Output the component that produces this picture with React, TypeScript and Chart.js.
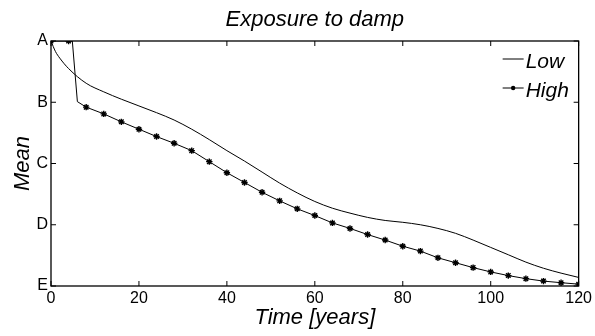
import React, { useEffect, useRef } from "react";
import { Chart, registerables } from "chart.js";

Chart.register(...registerables);

const titleText = "Exposure to damp";
const xAxisTitle = "Time [years]";
const yAxisTitle = "Mean";
const yTickLabels = ["E", "D", "C", "B", "A"]; // values 1..5
const seriesNames = ["Low", "High"];

const lowX = [0, 1, 2, 4, 8, 12, 16, 20, 24, 28, 32, 36, 40, 44, 48, 52, 56, 60, 64, 68, 72, 76, 80, 84, 88, 92, 96, 100, 104, 108, 112, 116, 120];
const lowY = [5.0, 4.83, 4.72, 4.55, 4.31, 4.17, 4.05, 3.94, 3.83, 3.71, 3.56, 3.39, 3.21, 3.04, 2.86, 2.68, 2.52, 2.38, 2.27, 2.19, 2.12, 2.07, 2.04, 2.0, 1.94, 1.86, 1.75, 1.63, 1.51, 1.39, 1.29, 1.21, 1.14];

const highX = [0, 4, 4.85, 6.0, 8, 12, 16, 20, 24, 28, 32, 36, 40, 44, 48, 52, 56, 60, 64, 68, 72, 76, 80, 84, 88, 92, 96, 100, 104, 108, 112, 116, 120];
const highY = [5.0, 5.0, 5.0, 4.01, 3.92, 3.81, 3.68, 3.56, 3.44, 3.33, 3.21, 3.03, 2.85, 2.69, 2.53, 2.39, 2.26, 2.15, 2.03, 1.94, 1.84, 1.75, 1.65, 1.57, 1.46, 1.38, 1.3, 1.23, 1.17, 1.12, 1.08, 1.054, 1.03];

const FONT = "Arial, 'Liberation Sans', Helvetica, sans-serif";

const framePlugin = {
  id: "frameAndText",
  afterDraw(chart: any) {
    const { ctx, chartArea } = chart;
    const { left, right, top, bottom } = chartArea;
    const xs = chart.scales.x;
    const ys = chart.scales.y;
    ctx.save();
    ctx.strokeStyle = "#000";
    ctx.lineWidth = 1.3;
    ctx.strokeRect(left, top, right - left, bottom - top);
    // inward ticks
    ctx.lineWidth = 1;
    const tl = 5;
    xs.ticks.forEach((t: any) => {
      const px = xs.getPixelForValue(t.value);
      ctx.beginPath();
      ctx.moveTo(px, bottom);
      ctx.lineTo(px, bottom - tl);
      ctx.moveTo(px, top);
      ctx.lineTo(px, top + tl);
      ctx.stroke();
    });
    ys.ticks.forEach((t: any) => {
      const py = ys.getPixelForValue(t.value);
      ctx.beginPath();
      ctx.moveTo(left, py);
      ctx.lineTo(left + tl, py);
      ctx.moveTo(right, py);
      ctx.lineTo(right - tl, py);
      ctx.stroke();
    });
    ctx.fillStyle = "#000";
    // title
    ctx.font = `italic 22px ${FONT}`;
    ctx.textAlign = "center";
    ctx.textBaseline = "alphabetic";
    const cx = (left + right) / 2;
    ctx.fillText(titleText, cx, 26);
    ctx.fillText(xAxisTitle, cx, 324);
    // y title
    ctx.save();
    ctx.translate(29, (top + bottom) / 2);
    ctx.rotate(-Math.PI / 2);
    ctx.fillText(yAxisTitle, 0, 0);
    ctx.restore();
    // legend
    ctx.font = `italic 21px ${FONT}`;
    ctx.textAlign = "left";
    const lx0 = right - 76;
    const lx1 = right - 55;
    const tx = right - 53;
    const rows = [59, 88];
    rows.forEach((y, i) => {
      ctx.beginPath();
      ctx.lineWidth = 1;
      ctx.moveTo(lx0, y);
      ctx.lineTo(lx1, y);
      ctx.stroke();
      if (i === 1) {
        ctx.beginPath();
        ctx.arc((lx0 + lx1) / 2, y, 2.2, 0, Math.PI * 2);
        ctx.fill();
      }
      ctx.fillText(seriesNames[i], tx, y + 9);
    });
    ctx.restore();
  },
};

export default function App() {
  const ref = useRef<HTMLCanvasElement>(null);
  useEffect(() => {
    document.body.style.margin = "0";
    const canvas = ref.current!;
    const chart = new Chart(canvas, {
      type: "line",
      data: {
        datasets: [
          {
            label: seriesNames[0],
            data: lowX.map((x, i) => ({ x, y: lowY[i] })),
            borderColor: "#000",
            borderWidth: 1,
            pointRadius: 0,
            cubicInterpolationMode: "monotone",
            fill: false,
          },
          {
            label: seriesNames[1],
            data: highX.map((x, i) => ({ x, y: highY[i] })),
            borderColor: "#000",
            backgroundColor: "#000",
            borderWidth: 1,
            tension: 0,
            pointStyle: "star",
            pointRadius: (c: any) => (c.raw && c.raw.x % 4 === 0 ? 3.2 : 0),
            pointBorderWidth: 1.4,
            pointBorderColor: "#000",
            fill: false,
          },
        ],
      },
      options: {
        responsive: false,
        animation: false,
        layout: { padding: { left: 0, top: 41, right: 16, bottom: 0 } },
        plugins: { legend: { display: false }, title: { display: false }, tooltip: { enabled: false } },
        scales: {
          x: {
            type: "linear",
            min: 0,
            max: 120,
            ticks: { stepSize: 20, color: "#000", font: { family: FONT, size: 16 }, padding: 3, maxRotation: 0 },
            grid: { display: false, drawTicks: false },
            border: { display: false },
            afterFit: (s: any) => {
              s.height = 50;
            },
          },
          y: {
            type: "linear",
            min: 1,
            max: 5,
            ticks: {
              stepSize: 1,
              color: "#000",
              font: { family: FONT, size: 16 },
              padding: 3,
              callback: (v: any) => yTickLabels[Math.round(v) - 1] ?? "",
            },
            grid: { display: false, drawTicks: false },
            border: { display: false },
            afterFit: (s: any) => {
              s.width = 51;
            },
          },
        },
      },
      plugins: [framePlugin],
    });
    return () => chart.destroy();
  }, []);
  return (
    <div style={{ width: 595, height: 336 }}>
      <canvas ref={ref} width={595} height={336} style={{ display: "block" }} />
    </div>
  );
}
